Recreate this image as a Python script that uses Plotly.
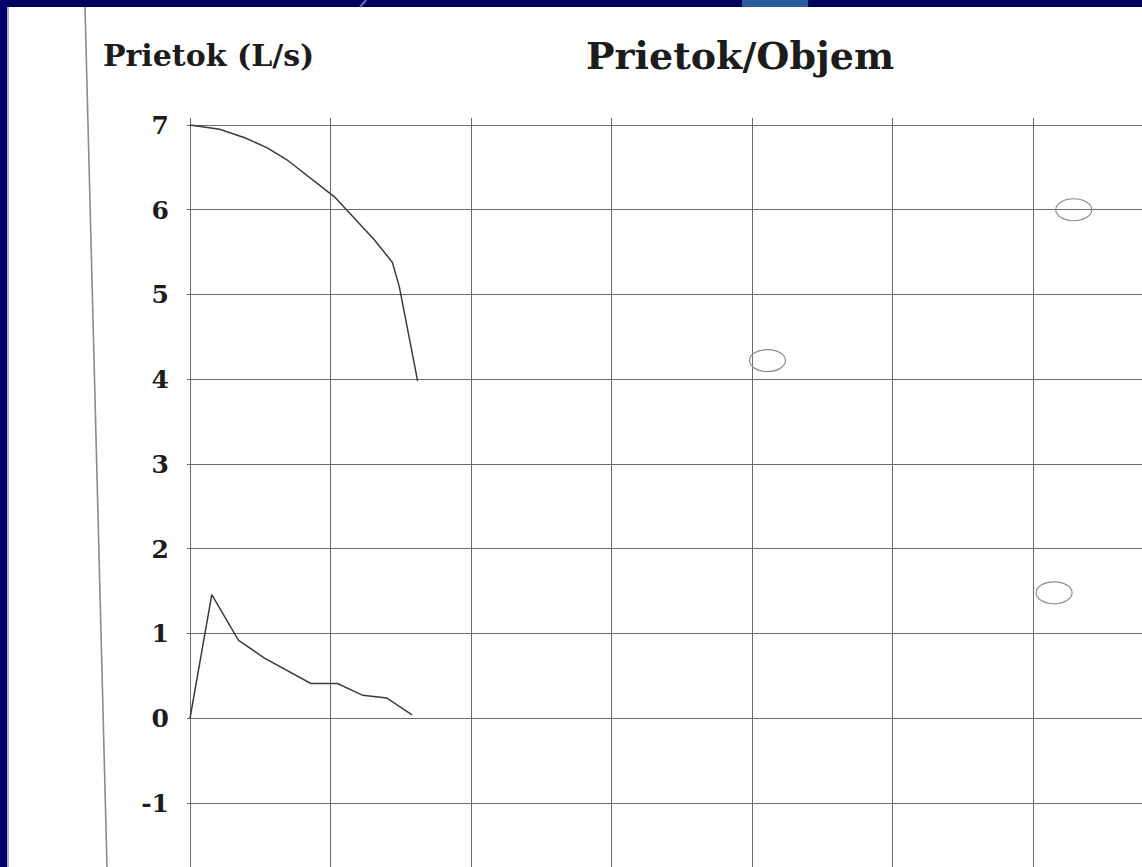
import plotly.graph_objects as go

# ---- data ----
exp_volume = [0.0, 0.21, 0.39, 0.55, 0.69, 1.03, 1.31, 1.44, 1.49, 1.62]
exp_flow = [7.0, 6.95, 6.85, 6.73, 6.59, 6.15, 5.65, 5.38, 5.09, 3.98]

insp_volume = [0.0, 0.155, 0.345, 0.53, 0.86, 1.05, 1.23, 1.40, 1.58]
insp_flow = [0.0, 1.46, 0.92, 0.71, 0.41, 0.41, 0.27, 0.24, 0.04]

pred_volume = [4.11, 6.29, 6.15]
pred_flow = [4.22, 6.00, 1.48]

y_tickvals = [-1, 0, 1, 2, 3, 4, 5, 6, 7]
y_ticktext = ["-1", "0", "1", "2", "3", "4", "5", "6", "7"]
x_tickvals = [0, 1, 2, 3, 4, 5, 6]

title_text = "Prietok/Objem"
ylabel_text = "Prietok (L/s)"

# ---- layout geometry (pixels) ----
W, H = 1142, 867
L, R, T, B = 187, 1142, 118, 867
PX_X = 140.5   # px per litre
PX_Y = 84.75   # px per L/s
X0_PX = 190    # pixel of volume 0
Y0_PX = 718.25 # pixel of flow 0

x_range = [(L - X0_PX) / PX_X, (R - X0_PX) / PX_X]
y_range = [(Y0_PX - B) / PX_Y, (Y0_PX - T) / PX_Y]


def pxx(px):
    return (px - L) / (R - L)


def pxy(py):
    return (B - py) / (B - T)


FONT = "DejaVu Serif"
INK = "#1c1c1c"

fig = go.Figure()

fig.add_trace(go.Scatter(x=exp_volume, y=exp_flow, mode="lines",
                         line=dict(color="#3a3a3a", width=1.5),
                         showlegend=False, hoverinfo="skip"))
fig.add_trace(go.Scatter(x=insp_volume, y=insp_flow, mode="lines",
                         line=dict(color="#3a3a3a", width=1.5),
                         showlegend=False, hoverinfo="skip"))

shapes = []
rx, ry = 18 / PX_X, 11 / PX_Y
for cx, cy in zip(pred_volume, pred_flow):
    shapes.append(dict(type="circle", xref="x", yref="y",
                       x0=cx - rx, x1=cx + rx, y0=cy - ry, y1=cy + ry,
                       line=dict(color="#8c8c8c", width=1.2),
                       fillcolor="rgba(0,0,0,0)", layer="above"))

NAVY = "#00005f"
# top navy strip
shapes.append(dict(type="rect", xref="paper", yref="paper",
                   x0=pxx(0), x1=pxx(W), y0=pxy(7), y1=pxy(0),
                   fillcolor=NAVY, line=dict(width=0), layer="above"))
# light blue slide-background fragment at top
shapes.append(dict(type="rect", xref="paper", yref="paper",
                   x0=pxx(742), x1=pxx(808), y0=pxy(7), y1=pxy(0),
                   fillcolor="#2b5e9e", line=dict(width=0), layer="above"))
shapes.append(dict(type="line", xref="paper", yref="paper",
                   x0=pxx(366), x1=pxx(360), y0=pxy(0), y1=pxy(7),
                   line=dict(color="#4a78b8", width=2), layer="above"))
# left navy strip
shapes.append(dict(type="rect", xref="paper", yref="paper",
                   x0=pxx(0), x1=pxx(7), y0=pxy(H), y1=pxy(0),
                   fillcolor="#000070", line=dict(width=0), layer="above"))
shapes.append(dict(type="line", xref="paper", yref="paper",
                   x0=pxx(8), x1=pxx(8), y0=pxy(H), y1=pxy(7),
                   line=dict(color="#9a9a9a", width=1.5), layer="above"))
# left paper edge line
shapes.append(dict(type="line", xref="paper", yref="paper",
                   x0=pxx(85), x1=pxx(107), y0=pxy(7), y1=pxy(H),
                   line=dict(color="#8a8a8a", width=1.6), layer="above"))

annotations = [
    dict(text=title_text, xref="paper", yref="paper",
         x=pxx(740), y=pxy(55), xanchor="center", yanchor="middle",
         showarrow=False,
         font=dict(family=FONT, size=38, color=INK, weight="bold")),
    dict(text=ylabel_text, xref="paper", yref="paper",
         x=pxx(101), y=pxy(55), xanchor="left", yanchor="middle",
         showarrow=False,
         font=dict(family=FONT, size=30, color=INK, weight="bold")),
]

fig.update_layout(
    width=W, height=H,
    margin=dict(l=L, r=W - R, t=T, b=H - B, pad=0),
    paper_bgcolor="white", plot_bgcolor="white",
    shapes=shapes, annotations=annotations,
    xaxis=dict(range=x_range, tickvals=x_tickvals, showticklabels=False,
               showgrid=True, gridcolor="#6a6a6a", gridwidth=1.2,
               zeroline=False, showline=False, ticks=""),
    yaxis=dict(range=y_range, tickvals=y_tickvals, ticktext=y_ticktext,
               showgrid=True, gridcolor="#6a6a6a", gridwidth=1.2,
               zeroline=False, showline=False,
               ticks="outside", ticklen=12, tickcolor="rgba(0,0,0,0)",
               tickfont=dict(family=FONT, size=25, color=INK, weight="bold")),
)

fig.write_html("out.html",
               config={"displayModeBar": False},
               post_script="document.body.style.margin='0';"
                           "document.body.style.overflow='hidden';")
